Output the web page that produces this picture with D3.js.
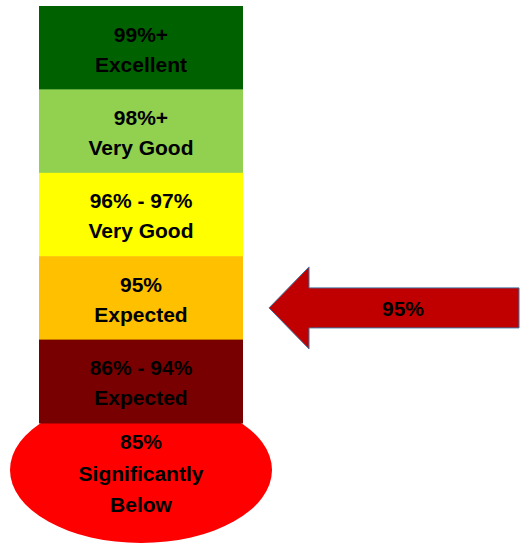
<!DOCTYPE html>
<html>
<head>
<meta charset="utf-8">
<script src="https://cdn.jsdelivr.net/npm/d3@7"></script>
<style>
  body { margin: 0; background: #fff; }
  text { font-family: "Liberation Sans", Arial, sans-serif; font-weight: bold; font-size: 21px; fill: #000; }
</style>
</head>
<body>
<svg width="524" height="545"></svg>
<script>
const bandRanges = ["99%+", "98%+", "96% - 97%", "95%", "86% - 94%"]
const bandRatings = ["Excellent", "Very Good", "Very Good", "Expected", "Expected"]
const bandColors = ["#006100", "#92D050", "#FFFF00", "#FFC000", "#790000"]
const bulbLines = ["85%", "Significantly", "Below"]
const currentValue = "95%"

const svg = d3.select("svg")

const tube = {left: 39, right: 243, top: 6, bottom: 423}

const yScale = d3.scaleBand()
  .domain(bandRanges)
  .range([tube.top, tube.bottom])

const xCenter = (tube.left + tube.right) / 2

// bulb
const bulb = {rx: 131, ry: 73, cy: 470}
svg.append("ellipse")
  .attr("cx", xCenter)
  .attr("cy", bulb.cy)
  .attr("rx", bulb.rx)
  .attr("ry", bulb.ry)
  .attr("fill", "#FF0000")

bulbLines.forEach((line, i) => {
  svg.append("text")
    .attr("x", xCenter)
    .attr("y", bulb.cy - 21 + i * 31.5)
    .attr("text-anchor", "middle")
    .text(line)
})

// tube bands
const bands = svg.selectAll("g.band")
  .data(bandRanges)
  .enter().append("g")
  .attr("class", "band")
  .attr("transform", d => `translate(0, ${yScale(d)})`)

bands.append("rect")
  .attr("x", tube.left)
  .attr("width", tube.right - tube.left)
  .attr("height", yScale.bandwidth() + 0.5)
  .attr("fill", (d, i) => bandColors[i])

bands.append("text")
  .attr("x", xCenter)
  .attr("y", 35.5)
  .attr("text-anchor", "middle")
  .text(d => d)

bands.append("text")
  .attr("x", xCenter)
  .attr("y", 65.5)
  .attr("text-anchor", "middle")
  .text((d, i) => bandRatings[i])

// arrow pointing at the current band
const arrowY = yScale(currentValue) + yScale.bandwidth() / 2 + 10
const arrow = {tip: 269, neck: 309, end: 519, head: 41, shaft: 20}
const arrowPath = d3.path()
arrowPath.moveTo(arrow.tip, arrowY)
arrowPath.lineTo(arrow.neck, arrowY - arrow.head)
arrowPath.lineTo(arrow.neck, arrowY - arrow.shaft)
arrowPath.lineTo(arrow.end, arrowY - arrow.shaft)
arrowPath.lineTo(arrow.end, arrowY + arrow.shaft)
arrowPath.lineTo(arrow.neck, arrowY + arrow.shaft)
arrowPath.lineTo(arrow.neck, arrowY + arrow.head)
arrowPath.closePath()

svg.append("path")
  .attr("d", arrowPath.toString())
  .attr("fill", "#C00000")
  .attr("stroke", "#41719C")
  .attr("stroke-width", 1)

svg.append("text")
  .attr("x", 403)
  .attr("y", arrowY + 8)
  .attr("text-anchor", "middle")
  .text(currentValue)
</script>
</body>
</html>
